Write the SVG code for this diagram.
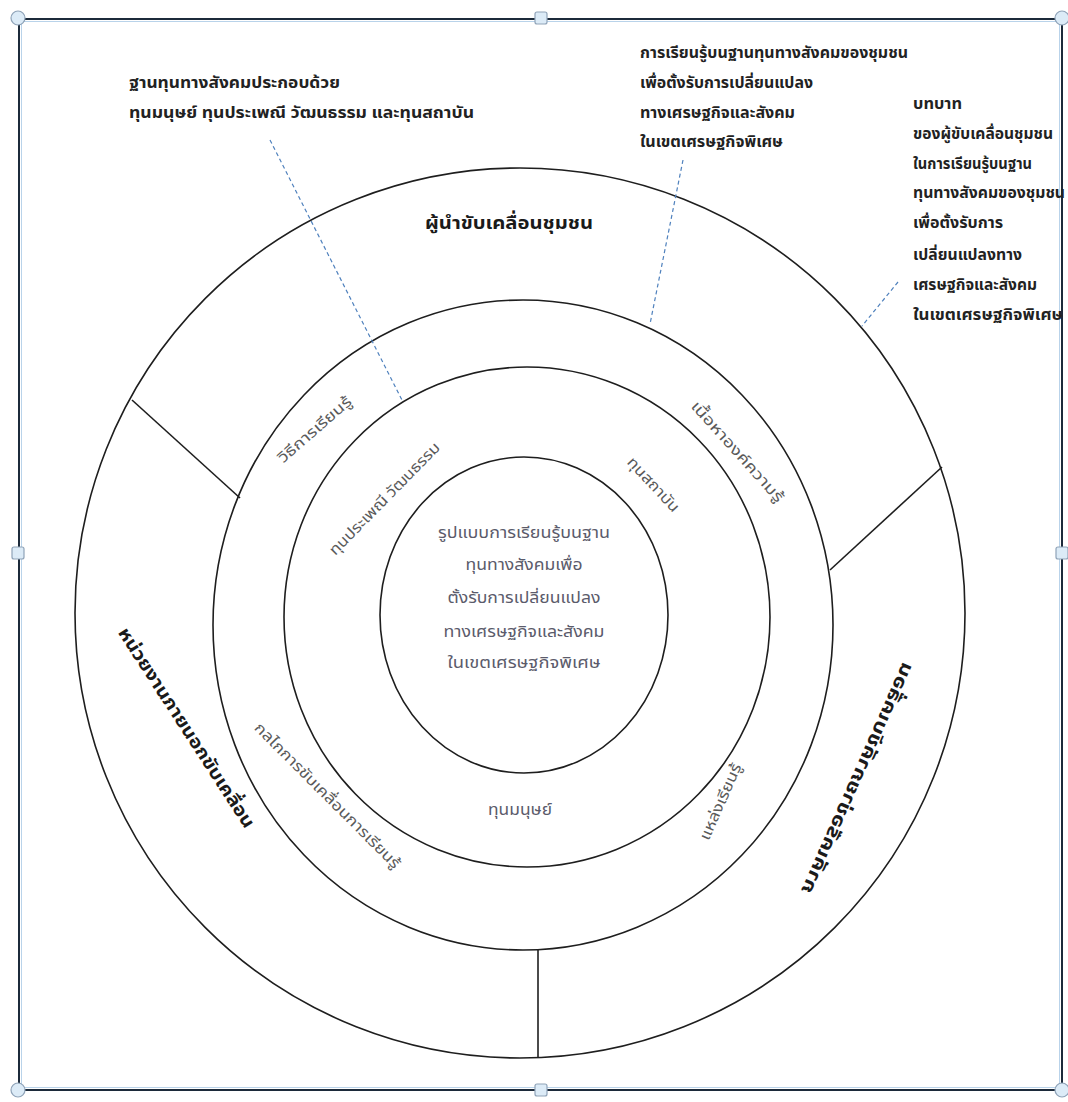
<svg xmlns="http://www.w3.org/2000/svg" width="1068" height="1102" viewBox="0 0 1068 1102">
<defs>
<style>
.ring{fill:none;stroke:#1e1e1e;stroke-width:1.6}
.div{stroke:#1e1e1e;stroke-width:1.6}
.dash{stroke:#4f81bd;stroke-width:1.2;stroke-dasharray:4 3;fill:none}
.lbl{font-family:'Noto Sans Thai','Tahoma','Noto Sans','DejaVu Sans',sans-serif;font-size:15px;font-weight:bold;fill:#222}
.big{font-family:'Noto Sans Thai','Tahoma','Noto Sans','DejaVu Sans',sans-serif;font-size:18px;font-weight:bold;fill:#1a1a1a}
.gry{font-family:'Noto Sans Thai','Tahoma','Noto Sans','DejaVu Sans',sans-serif;font-size:15px;fill:#5a5a5a}
.ctr{font-family:'Noto Sans Thai','Tahoma','Noto Sans','DejaVu Sans',sans-serif;font-size:15px;fill:#5b5b6b}
.hc{fill:#dcebf7;stroke:#8fa3b8;stroke-width:1.2}
</style>
</defs>
<rect width="1068" height="1102" fill="#ffffff"/>
<g id="frame">
<rect x="19" y="19" width="1043" height="1071" fill="none" stroke="#1c2a3a" stroke-width="2"/>
<rect x="21.5" y="21.5" width="1038" height="1066" fill="none" stroke="#b9d3ea" stroke-width="1"/>
<circle class="hc" cx="18" cy="18" r="7"/>
<circle class="hc" cx="1062" cy="18" r="7"/>
<circle class="hc" cx="18" cy="1090" r="7"/>
<circle class="hc" cx="1062" cy="1090" r="7"/>
<rect class="hc" x="535" y="12" width="12" height="12" rx="2"/>
<rect class="hc" x="535" y="1084" width="12" height="12" rx="2"/>
<rect class="hc" x="12" y="547" width="12" height="12" rx="2"/>
<rect class="hc" x="1056" y="547" width="12" height="12" rx="2"/>
</g>
<g id="rings">
<ellipse id="outer" class="ring" cx="520" cy="613" rx="445" ry="445"/>
<ellipse id="ring2" class="ring" cx="523" cy="625" rx="310" ry="325"/>
<ellipse id="ring3" class="ring" cx="527" cy="617" rx="243" ry="250"/>
<ellipse id="core" class="ring" cx="524" cy="615" rx="144" ry="158"/>
</g>
<g id="connectors">
<line class="div" x1="132" y1="400" x2="240" y2="498"/>
<line class="div" x1="830" y1="570" x2="942" y2="467"/>
<line class="div" x1="538" y1="950" x2="538" y2="1058"/>
<line class="dash" x1="270" y1="140" x2="403" y2="402"/>
<line class="dash" x1="683" y1="160" x2="650" y2="324"/>
<line class="dash" x1="898" y1="282" x2="862" y2="326"/>
</g>
<g id="note-left">
<text class="lbl" x="129" y="88" textLength="211" lengthAdjust="spacingAndGlyphs">ฐานทุนทางสังคมประกอบด้วย</text>
<text class="lbl" x="129" y="118" textLength="345" lengthAdjust="spacingAndGlyphs">ทุนมนุษย์ ทุนประเพณี วัฒนธรรม และทุนสถาบัน</text>
</g>
<g id="note-mid">
<text class="lbl" x="640" y="58" textLength="268" lengthAdjust="spacingAndGlyphs">การเรียนรู้บนฐานทุนทางสังคมของชุมชน</text>
<text class="lbl" x="640" y="88" textLength="173" lengthAdjust="spacingAndGlyphs">เพื่อตั้งรับการเปลี่ยนแปลง</text>
<text class="lbl" x="640" y="118" textLength="155" lengthAdjust="spacingAndGlyphs">ทางเศรษฐกิจและสังคม</text>
<text class="lbl" x="640" y="147" textLength="143" lengthAdjust="spacingAndGlyphs">ในเขตเศรษฐกิจพิเศษ</text>
</g>
<g id="note-right">
<text class="lbl" x="913" y="109" textLength="49" lengthAdjust="spacingAndGlyphs">บทบาท</text>
<text class="lbl" x="913" y="139" textLength="140" lengthAdjust="spacingAndGlyphs">ของผู้ขับเคลื่อนชุมชน</text>
<text class="lbl" x="913" y="169" textLength="119" lengthAdjust="spacingAndGlyphs">ในการเรียนรู้บนฐาน</text>
<text class="lbl" x="913" y="198" textLength="152" lengthAdjust="spacingAndGlyphs">ทุนทางสังคมของชุมชน</text>
<text class="lbl" x="913" y="228" textLength="90" lengthAdjust="spacingAndGlyphs">เพื่อตั้งรับการ</text>
<text class="lbl" x="913" y="260" textLength="109" lengthAdjust="spacingAndGlyphs">เปลี่ยนแปลงทาง</text>
<text class="lbl" x="913" y="290" textLength="124" lengthAdjust="spacingAndGlyphs">เศรษฐกิจและสังคม</text>
<text class="lbl" x="913" y="320" textLength="150" lengthAdjust="spacingAndGlyphs">ในเขตเศรษฐกิจพิเศษ</text>
</g>
<g id="outer-ring-labels">
<text class="big" x="509" y="229" text-anchor="middle" textLength="168" lengthAdjust="spacingAndGlyphs">ผู้นำขับเคลื่อนชุมชน</text>
<text class="big" transform="translate(186,728) rotate(57)" text-anchor="middle" dominant-baseline="central" textLength="235" lengthAdjust="spacingAndGlyphs">หน่วยงานภายนอกขับเคลื่อน</text>
<text class="big" transform="translate(857,778) rotate(-66) scale(1,-1)" text-anchor="middle" dominant-baseline="central" textLength="251" lengthAdjust="spacingAndGlyphs">ภาคีเครือข่ายภาคีขับเคลื่อน</text>
</g>
<g id="middle-ring-labels">
<text class="gry" transform="translate(315,430) rotate(-41)" text-anchor="middle" dominant-baseline="central" textLength="92" lengthAdjust="spacingAndGlyphs">วิธีการเรียนรู้</text>
<text class="gry" transform="translate(737,452) rotate(48)" text-anchor="middle" dominant-baseline="central" textLength="130" lengthAdjust="spacingAndGlyphs">เนื้อหาองค์ความรู้</text>
<text class="gry" transform="translate(327,796) rotate(45)" text-anchor="middle" dominant-baseline="central" textLength="199" lengthAdjust="spacingAndGlyphs">กลไกการขับเคลื่อนการเรียนรู้</text>
<text class="gry" transform="translate(721,802) rotate(-66)" text-anchor="middle" dominant-baseline="central" textLength="82" lengthAdjust="spacingAndGlyphs">แหล่งเรียนรู้</text>
</g>
<g id="inner-ring-labels">
<text class="gry" transform="translate(385,499) rotate(-45.5)" text-anchor="middle" dominant-baseline="central" textLength="151" lengthAdjust="spacingAndGlyphs">ทุนประเพณี วัฒนธรรม</text>
<text class="gry" transform="translate(653,485) rotate(47)" text-anchor="middle" dominant-baseline="central" textLength="69" lengthAdjust="spacingAndGlyphs">ทุนสถาบัน</text>
<text class="ctr" x="520" y="815" text-anchor="middle" textLength="64" lengthAdjust="spacingAndGlyphs">ทุนมนุษย์</text>
</g>
<g id="core-text">
<text class="ctr" x="524" y="538" text-anchor="middle" textLength="172" lengthAdjust="spacingAndGlyphs">รูปแบบการเรียนรู้บนฐาน</text>
<text class="ctr" x="524" y="570" text-anchor="middle" textLength="117" lengthAdjust="spacingAndGlyphs">ทุนทางสังคมเพื่อ</text>
<text class="ctr" x="524" y="603" text-anchor="middle" textLength="153" lengthAdjust="spacingAndGlyphs">ตั้งรับการเปลี่ยนแปลง</text>
<text class="ctr" x="524" y="637" text-anchor="middle" textLength="161" lengthAdjust="spacingAndGlyphs">ทางเศรษฐกิจและสังคม</text>
<text class="ctr" x="524" y="668" text-anchor="middle" textLength="153" lengthAdjust="spacingAndGlyphs">ในเขตเศรษฐกิจพิเศษ</text>
</g>
</svg>
